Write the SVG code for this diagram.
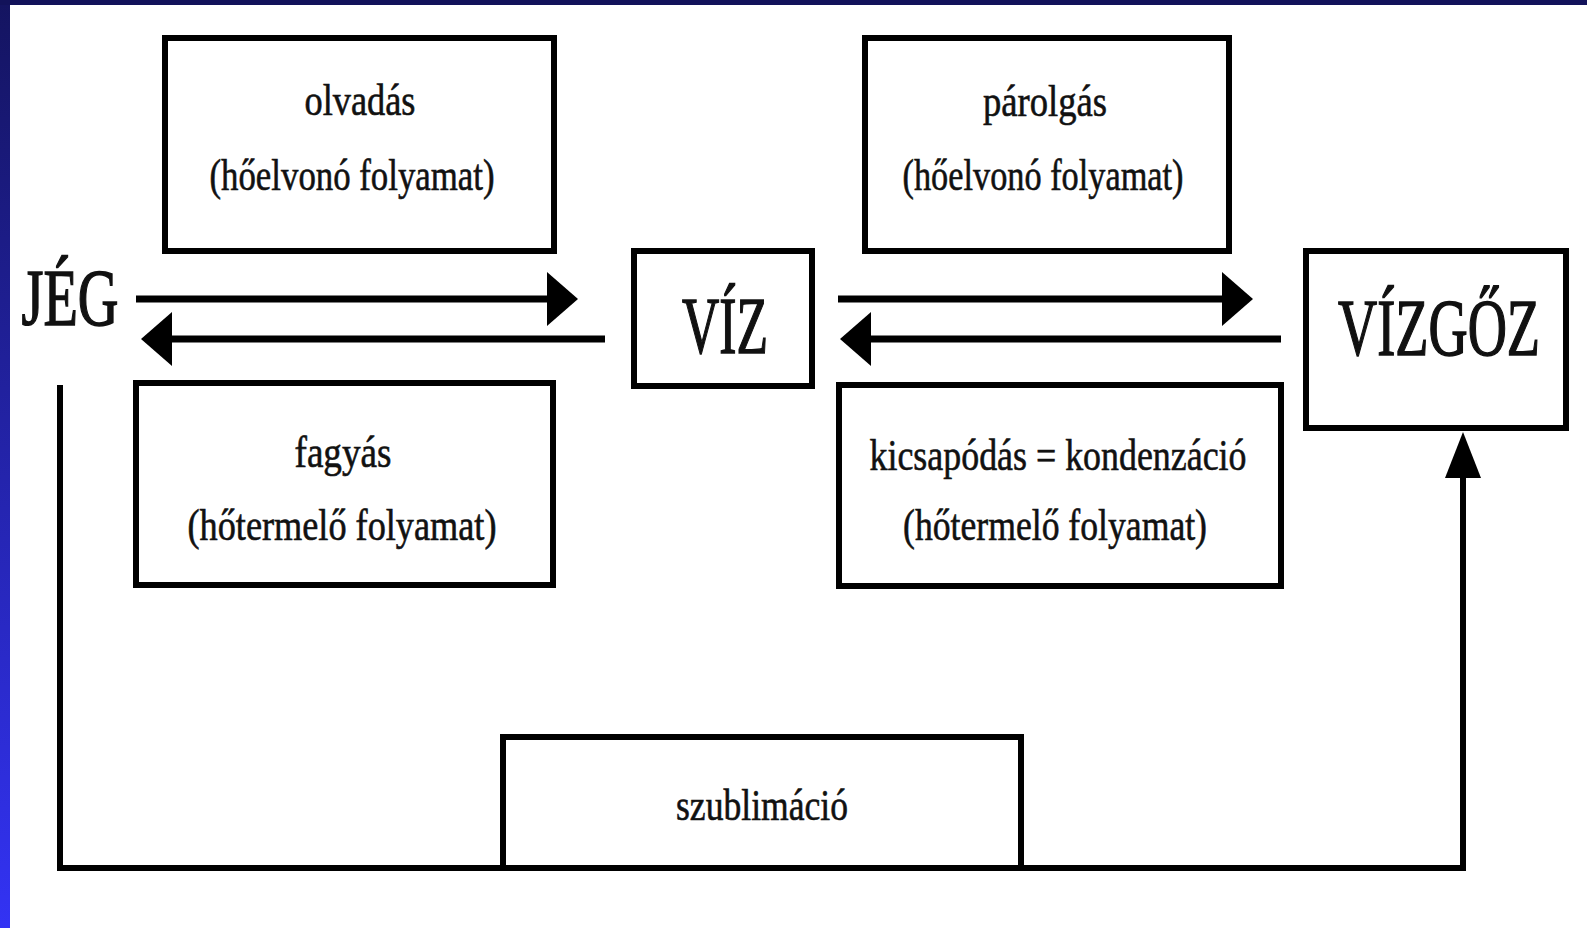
<svg xmlns="http://www.w3.org/2000/svg" width="1587" height="928" viewBox="0 0 1587 928">
<defs>
<linearGradient id="side" x1="0" y1="0" x2="0" y2="1">
<stop offset="0" stop-color="#141460"/>
<stop offset="1" stop-color="#3333f4"/>
</linearGradient>
<marker id="ah" markerUnits="userSpaceOnUse" markerWidth="32" markerHeight="54" viewBox="0 0 31 54" refX="0" refY="27" orient="auto">
<path d="M0,0 L31,27 L0,54 z" fill="#000"/>
</marker>
<marker id="ahUp" markerUnits="userSpaceOnUse" markerWidth="46" markerHeight="36" viewBox="0 0 46 36" refX="0" refY="18" orient="auto">
<path d="M0,0 L46,18 L0,36 z" fill="#000"/>
</marker>
<style>
.box{fill:#fff;stroke:#000;stroke-width:6}
.t{font-family:"Liberation Serif","Times New Roman",serif;font-size:44px;fill:#111;stroke:#111;stroke-width:0.6;text-anchor:middle}
.big{font-family:"Liberation Serif","Times New Roman",serif;font-size:54px;fill:#111;stroke:#111;stroke-width:1;text-anchor:middle}
.arr{fill:none;stroke:#000;stroke-width:7}
.sub{fill:none;stroke:#000;stroke-width:6}
</style>
</defs>
<rect x="0" y="0" width="1587" height="928" fill="#fff"/>
<rect x="0" y="0" width="10" height="928" fill="url(#side)"/>
<rect x="0" y="0" width="1587" height="5" fill="#12125a"/>

<g id="connectors">
<line class="arr" x1="136" y1="299" x2="547" y2="299" marker-end="url(#ah)"/>
<line class="arr" x1="605" y1="339" x2="172" y2="339" marker-end="url(#ah)"/>
<line class="arr" x1="838" y1="299" x2="1222" y2="299" marker-end="url(#ah)"/>
<line class="arr" x1="1281" y1="339" x2="871" y2="339" marker-end="url(#ah)"/>
<path class="sub" d="M60,385 V868 H1463 V478" marker-end="url(#ahUp)"/>
</g>

<g id="jeg">
<text class="big" transform="translate(70,325) scale(1,1.48)" x="0" y="0" textLength="97" lengthAdjust="spacingAndGlyphs">JÉG</text>
</g>
<g id="viz">
<rect class="box" x="634" y="251" width="178" height="135"/>
<text class="big" transform="translate(725,353) scale(1,1.48)" x="0" y="0" textLength="86" lengthAdjust="spacingAndGlyphs">VÍZ</text>
</g>
<g id="vizgoz">
<rect class="box" x="1306" y="251" width="260" height="177"/>
<text class="big" transform="translate(1439,355) scale(1,1.48)" x="0" y="0" textLength="202" lengthAdjust="spacingAndGlyphs">VÍZGŐZ</text>
</g>
<g id="olvadas">
<rect class="box" x="165" y="38" width="389" height="213"/>
<text class="t" x="360" y="115" textLength="111" lengthAdjust="spacingAndGlyphs">olvadás</text>
<text class="t" x="352" y="190" textLength="285" lengthAdjust="spacingAndGlyphs">(hőelvonó folyamat)</text>
</g>
<g id="parolgas">
<rect class="box" x="865" y="38" width="364" height="213"/>
<text class="t" x="1045" y="116" textLength="124" lengthAdjust="spacingAndGlyphs">párolgás</text>
<text class="t" x="1043" y="190" textLength="281" lengthAdjust="spacingAndGlyphs">(hőelvonó folyamat)</text>
</g>
<g id="fagyas">
<rect class="box" x="136" y="383" width="417" height="202"/>
<text class="t" x="343" y="467" textLength="97" lengthAdjust="spacingAndGlyphs">fagyás</text>
<text class="t" x="342" y="540" textLength="309" lengthAdjust="spacingAndGlyphs">(hőtermelő folyamat)</text>
</g>
<g id="kicsapodas">
<rect class="box" x="839" y="385" width="442" height="201"/>
<text class="t" x="1058" y="470" textLength="377" lengthAdjust="spacingAndGlyphs">kicsapódás = kondenzáció</text>
<text class="t" x="1055" y="540" textLength="304" lengthAdjust="spacingAndGlyphs">(hőtermelő folyamat)</text>
</g>
<g id="szublimacio">
<rect class="box" x="503" y="737" width="518" height="131"/>
<text class="t" x="762" y="820" textLength="172" lengthAdjust="spacingAndGlyphs">szublimáció</text>
</g>
</svg>
